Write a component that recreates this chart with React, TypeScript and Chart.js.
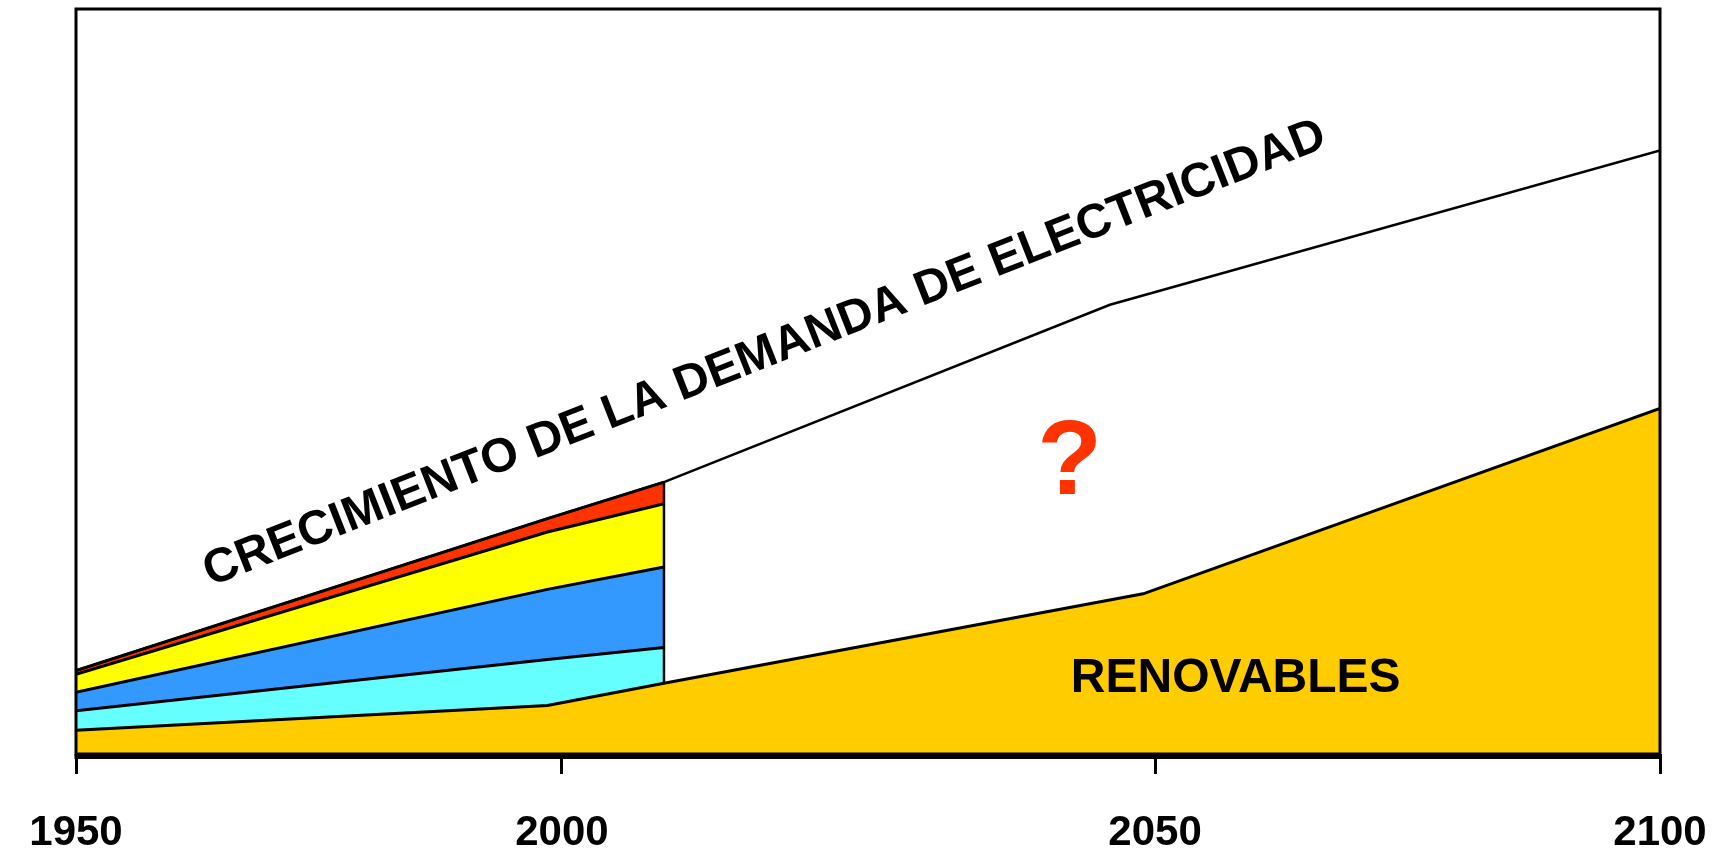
import React, { useEffect, useRef } from 'react';
import { Chart, registerables, LinearScale } from 'chart.js';

// ---- data (y in % of the plot height) ----
const tickYears = [1950, 2000, 2050, 2100];
const tickLabels = ['1950', '2000', '2050', '2100'];

const renovablesYears = [1950, 1998.5, 2008.6, 2049, 2100];
const renovablesTop = [3.2, 6.5, 9.5, 21.5, 46.4];

const layerYears = [1950, 1998.5, 2008.6];
const cyanTop = [5.8, 12.7, 14.3];
const blueTop = [8.3, 22.1, 25.1];
const yellowTop = [10.7, 29.8, 33.6];

const demandYears = [1950, 1998.5, 2008.6, 2046.2, 2100];
const demandValues = [11.2, 31.6, 36.5, 60.3, 81.0];

const todayYear = 2008.6;

// ---- axis layout (the original axis is drawn unevenly) ----
const tickFractions = [0, 0.3068, 0.6812, 1];

function warp(v: number): number {
  let i = 0;
  while (i < tickYears.length - 2 && v > tickYears[i + 1]) i++;
  const t = (v - tickYears[i]) / (tickYears[i + 1] - tickYears[i]);
  return tickFractions[i] + t * (tickFractions[i + 1] - tickFractions[i]);
}
function unwarp(d: number): number {
  let i = 0;
  while (i < tickFractions.length - 2 && d > tickFractions[i + 1]) i++;
  const t = (d - tickFractions[i]) / (tickFractions[i + 1] - tickFractions[i]);
  return tickYears[i] + t * (tickYears[i + 1] - tickYears[i]);
}

class WarpedYearScale extends LinearScale {
  static id = 'warpedYear';
  static defaults = LinearScale.defaults;
  getPixelForValue(value: any) {
    if (value === null || value === undefined || isNaN(value)) return NaN;
    return this.getPixelForDecimal(warp(value));
  }
  getValueForPixel(pixel: number) {
    return unwarp(this.getDecimalForPixel(pixel));
  }
}

Chart.register(...registerables, WarpedYearScale);

const FONT = '"Liberation Sans", Arial, Helvetica, sans-serif';

const pts = (xs: number[], ys: number[]) => xs.map((x, i) => ({ x, y: ys[i] }));

const framePlugin = {
  id: 'frame',
  afterDatasetsDraw(chart: any) {
    const { ctx, chartArea: a } = chart;
    ctx.save();
    ctx.strokeStyle = '#000';
    ctx.lineWidth = 3;
    ctx.strokeRect(a.left, a.top, a.right - a.left, a.bottom - a.top);
    ctx.fillStyle = '#000';
    ctx.fillRect(a.left - 1.5, a.bottom, a.right - a.left + 3, 5);
    ctx.restore();
  },
};

const labelsPlugin = {
  id: 'labels',
  afterDraw(chart: any) {
    const { ctx } = chart;
    const xs = chart.scales.x;
    const ys = chart.scales.y;
    ctx.save();
    ctx.translate(xs.getPixelForValue(2017.1), ys.getPixelForValue(53.7));
    ctx.rotate((-21.5 * Math.PI) / 180);
    ctx.font = `bold 48px ${FONT}`;
    ctx.fillStyle = '#000';
    ctx.textAlign = 'center';
    ctx.textBaseline = 'middle';
    ctx.fillText('CRECIMIENTO DE LA DEMANDA DE ELECTRICIDAD', 0, 0);
    ctx.restore();

    ctx.save();
    ctx.font = `bold 106px ${FONT}`;
    ctx.fillStyle = '#FF3300';
    ctx.textAlign = 'center';
    ctx.textBaseline = 'alphabetic';
    ctx.fillText('?', xs.getPixelForValue(2042.8), ys.getPixelForValue(34.9));
    ctx.restore();

    ctx.save();
    ctx.font = `bold 48px ${FONT}`;
    ctx.fillStyle = '#000';
    ctx.textAlign = 'left';
    ctx.textBaseline = 'alphabetic';
    ctx.fillText('RENOVABLES', xs.getPixelForValue(2042.9), ys.getPixelForValue(8.3));
    ctx.restore();
  },
};

export default function App() {
  const ref = useRef<HTMLCanvasElement>(null);
  useEffect(() => {
    if (!ref.current) return;
    const line = { borderColor: '#000', borderWidth: 3, pointRadius: 0, tension: 0, order: 2 };
    const chart = new Chart(ref.current, {
      type: 'line',
      data: {
        datasets: [
          { ...line, label: 'Renovables', data: pts(renovablesYears, renovablesTop), fill: 'origin', backgroundColor: '#FFCC00' },
          { ...line, label: 'cyan', data: pts(layerYears, cyanTop), fill: 0, backgroundColor: '#66FFFF' },
          { ...line, label: 'blue', data: pts(layerYears, blueTop), fill: 1, backgroundColor: '#3399FF' },
          { ...line, label: 'yellow', data: pts(layerYears, yellowTop), fill: 2, backgroundColor: '#FFFF00' },
          { ...line, label: 'red', data: pts(layerYears, demandValues.slice(0, layerYears.length)), fill: 3, backgroundColor: '#FF3300' },
          { ...line, label: 'Demanda', data: pts(demandYears, demandValues), fill: false, borderWidth: 2.5, order: 1 },
          {
            ...line,
            label: 'hoy',
            data: [
              { x: todayYear, y: renovablesTop[2] },
              { x: todayYear, y: demandValues[2] },
            ],
            fill: false,
            borderWidth: 2.5,
            order: 0,
          },
        ],
      },
      options: {
        animation: false,
        responsive: true,
        maintainAspectRatio: false,
        events: [],
        layout: { padding: { left: 76, right: 58, top: 9, bottom: 0 } },
        plugins: { legend: { display: false }, tooltip: { enabled: false } },
        scales: {
          x: {
            type: 'warpedYear' as any,
            min: 1950,
            max: 2100,
            afterBuildTicks: (s: any) => {
              s.ticks = tickYears.map((v) => ({ value: v }));
            },
            afterFit: (s: any) => {
              s.height = 100;
              s.paddingLeft = 0;
              s.paddingRight = 0;
            },
            grid: { drawOnChartArea: false, drawTicks: true, tickLength: 20, tickWidth: 3, tickColor: '#000' },
            border: { display: false },
            ticks: {
              autoSkip: false,
              maxRotation: 0,
              padding: 34,
              color: '#000',
              font: { family: FONT, size: 42, weight: 'bold' },
              callback: (_v: any, i: number) => tickLabels[i],
            },
          },
          y: { display: false, min: 0, max: 100 },
        },
      },
      plugins: [framePlugin, labelsPlugin],
    } as any);
    return () => chart.destroy();
  }, []);
  return (
    <div style={{ position: 'absolute', left: 0, top: 0, width: 1718, height: 854, background: '#fff' }}>
      <canvas ref={ref} />
    </div>
  );
}
